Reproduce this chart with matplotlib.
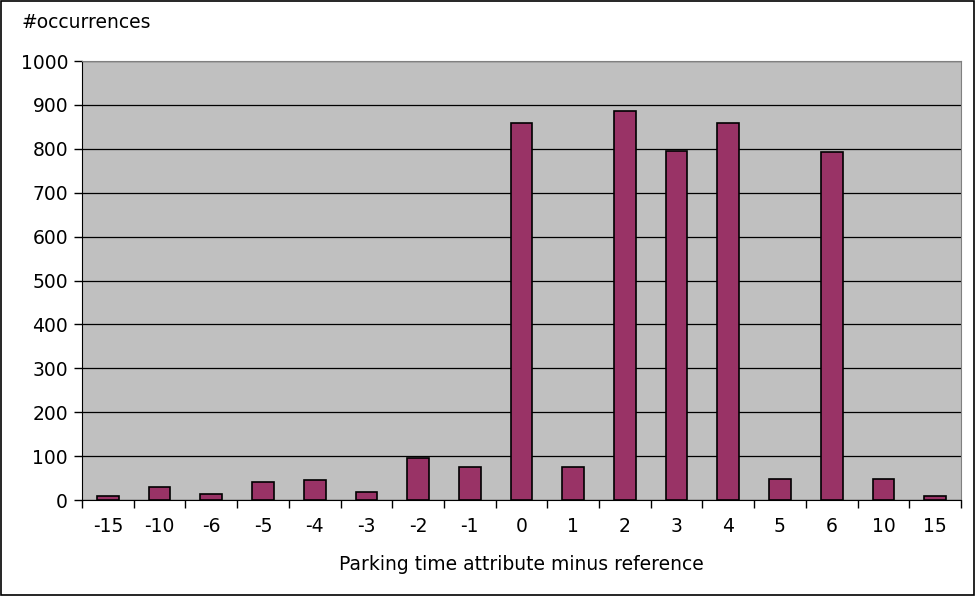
import matplotlib
matplotlib.use("Agg")
import matplotlib.pyplot as plt
import numpy as np

# time differences (minutes) and how often each one was seen
diffs = ["-15", "-10", "-6", "-5", "-4", "-3", "-2", "-1", "0", "1", "2", "3", "4", "5", "6", "10", "15"]
counts = [10, 30, 14, 42, 45, 18, 96, 75, 858, 75, 886, 796, 858, 48, 792, 48, 10]

plt.rcParams['font.family'] = ['DejaVu Sans']
plt.rcParams['font.size'] = 13.5

fig = plt.figure(figsize=(9.75, 5.96), dpi=100)
ax = fig.add_axes([0.0841, 0.161, 0.9015, 0.7366])

x = np.arange(len(diffs))
ax.bar(x, counts, width=0.42, color='#993366', edgecolor='black', linewidth=1.2, zorder=3)

ax.set_facecolor('#C0C0C0')
ax.set_xlim(-0.5, len(diffs) - 0.5)
ax.set_ylim(0, 1000)
ax.set_yticks(range(0, 1001, 100))
ax.yaxis.grid(True, color='black', linewidth=0.9, zorder=1)

# category labels in the middle, tick marks on the boundaries
ax.set_xticks(x)
ax.set_xticklabels(diffs)
ax.tick_params(axis='x', which='major', length=0, pad=12)
ax.set_xticks(np.arange(-0.5, len(diffs)), minor=True)
ax.tick_params(axis='x', which='minor', length=6, width=1, direction='out')
ax.tick_params(axis='y', length=6, width=1, direction='out', pad=4)

for side in ['top', 'right']:
    ax.spines[side].set_color('#808080')
ax.spines['left'].set_color('black')
ax.spines['bottom'].set_color('black')

ax.set_xlabel('Parking time attribute minus reference', labelpad=14)
fig.text(0.022, 0.963, '#occurrences', ha='left', va='center')

# frame around the whole chart
fig.patches.append(plt.Rectangle((0.001, 0.001), 0.998, 0.997, transform=fig.transFigure,
                                 fill=False, edgecolor='black', linewidth=1.2))

fig.savefig('out.png', dpi=100)
